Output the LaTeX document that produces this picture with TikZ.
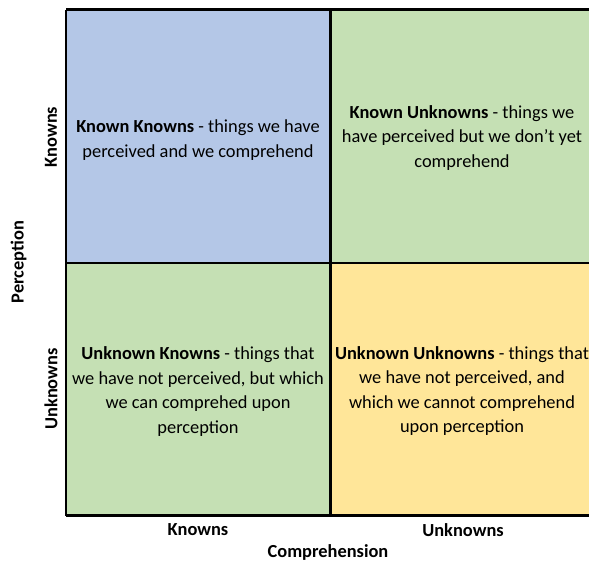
\documentclass[tikz,border=0pt]{standalone}
\usepackage{fontspec}
\setmainfont{Carlito}
\definecolor{kkblue}{HTML}{B4C7E7}
\definecolor{kugreen}{HTML}{C5E0B4}
\definecolor{uuyellow}{HTML}{FFE699}
\begin{document}
\begin{tikzpicture}[x=1pt,y=-1pt,
  celltext/.style={align=center,font=\fontsize{18.4}{24.4}\selectfont,inner sep=0pt},
  axislabel/.style={font=\fontsize{18.4}{20}\selectfont\bfseries,inner sep=0pt},
  gridline/.style={line width=2.6pt,black}]
\useasboundingbox (0,0) rectangle (589,562);
\clip (0,0) rectangle (589,562);
\fill[white] (0,0) rectangle (589,562);
% cells
\fill[kkblue]   (66,9.5) rectangle (330.5,263);
\fill[kugreen]  (330.5,9.5) rectangle (600,263);
\fill[kugreen]  (66,263) rectangle (330.5,515.5);
\fill[uuyellow] (330.5,263) rectangle (600,515.5);
% grid lines
\coordinate (tl) at (66,9.5);
\coordinate (tr) at (600,9.5);
\coordinate (bl) at (66,515.5);
\coordinate (br) at (600,515.5);
\coordinate (mt) at (330.5,9.5);
\coordinate (mb) at (330.5,515.5);
\coordinate (ml) at (66,263);
\coordinate (mr) at (600,263);
\draw[gridline] (tl) -- (tr);
\draw[gridline] (tl) -- (bl);
\draw[line width=3pt] (bl) -- (br);
\draw[gridline] (mt) -- (mb);
\draw[gridline] (ml) -- (mr);
% texts
\node[celltext] (kk) at (198,140) {\textbf{Known Knowns} - things we have\\perceived and we comprehend};
\node[celltext] (ku) at (462,138) {\textbf{Known Unknowns} - things we\\have perceived but we don\symbol{"27}t yet\\comprehend};
\node[celltext] (uk) at (198,391.5) {\textbf{Unknown Knowns} - things that\\we have not perceived, but which\\we can comprehed upon\\perception};
\node[celltext] (uu) at (462,391) {\textbf{Unknown Unknowns} - things that\\we have not perceived, and\\which we cannot comprehend\\upon perception};
% axis labels
\node[axislabel] (xk) at (198,530) {Knowns};
\node[axislabel] (xu) at (463,530) {Unknowns};
\node[axislabel] (xt) at (328,552) {Comprehension};
\node[axislabel,rotate=90] (yk) at (51,137) {Knowns};
\node[axislabel,rotate=90] (yu) at (51,389) {Unknowns};
\node[axislabel,rotate=90] (yt) at (18.5,262) {Perception};
\end{tikzpicture}
\end{document}
